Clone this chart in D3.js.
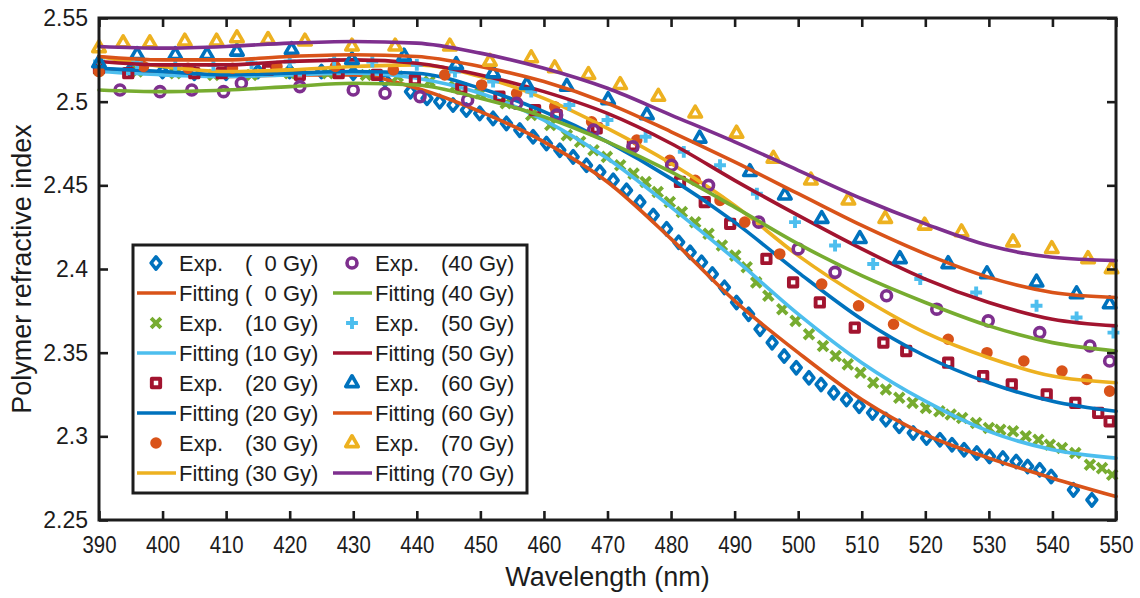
<!DOCTYPE html>
<html>
<head>
<meta charset="utf-8">
<script src="https://cdn.jsdelivr.net/npm/d3@7"></script>
<style>
  body { margin: 0; background: #fff; }
  text { font-family: "Liberation Sans", Arial, sans-serif; fill: #1c1c1c; }
</style>
</head>
<body>
<div class="main"></div>
<script>
// Dados
var doses = ["0", "10", "20", "30", "40", "50", "60", "70"];
var doseLabels = ["(  0 Gy)", "(10 Gy)", "(20 Gy)", "(30 Gy)", "(40 Gy)", "(50 Gy)", "(60 Gy)", "(70 Gy)"];

// curvas de ajuste (a cada 10 nm)
var fitWl = [390, 400, 410, 420, 430, 440, 450, 460, 470, 480, 490, 500, 510, 520, 530, 540, 550];
var fit0  = [2.520, 2.517, 2.515, 2.516, 2.516, 2.508, 2.494, 2.476, 2.452, 2.418, 2.381, 2.350, 2.322, 2.301, 2.287, 2.275, 2.264];
var fit10 = [2.518, 2.516, 2.515, 2.516, 2.517, 2.514, 2.505, 2.489, 2.466, 2.437, 2.406, 2.373, 2.344, 2.321, 2.303, 2.292, 2.287];
var fit20 = [2.520, 2.518, 2.516, 2.517, 2.518, 2.517, 2.508, 2.494, 2.476, 2.454, 2.428, 2.398, 2.370, 2.348, 2.332, 2.321, 2.315];
var fit30 = [2.527, 2.521, 2.518, 2.519, 2.521, 2.522, 2.515, 2.502, 2.484, 2.463, 2.438, 2.408, 2.383, 2.362, 2.347, 2.336, 2.332];
var fit40 = [2.507, 2.506, 2.507, 2.509, 2.511, 2.510, 2.502, 2.491, 2.476, 2.458, 2.437, 2.415, 2.396, 2.380, 2.366, 2.356, 2.351];
var fit50 = [2.524, 2.522, 2.522, 2.524, 2.525, 2.523, 2.516, 2.506, 2.493, 2.475, 2.453, 2.432, 2.412, 2.394, 2.380, 2.370, 2.366];
var fit60 = [2.527, 2.525, 2.525, 2.527, 2.528, 2.527, 2.521, 2.512, 2.499, 2.482, 2.464, 2.445, 2.426, 2.409, 2.395, 2.386, 2.383];
var fit70 = [2.533, 2.532, 2.533, 2.535, 2.536, 2.535, 2.529, 2.520, 2.508, 2.492, 2.476, 2.459, 2.442, 2.427, 2.414, 2.407, 2.405];

// pontos experimentais
var exp0Wl = [390, 395, 400, 405, 410, 415, 420, 425, 430, 435, 439, 441.6, 443.6, 445.7, 447.8, 449.9, 452, 454.1, 456.2, 458.3,
  460.4, 462.5, 464.6, 466.7, 468.8, 470.9, 473, 475.1, 477.2, 479.3, 481.2, 483, 484.8, 486.5, 488.4, 490.3, 492.2, 494, 495.9, 497.8,
  499.7, 501.7, 503.6, 505.6, 507.6, 509.6, 511.7, 513.8, 515.9, 518.1, 520.2, 522.3, 524.2, 526.1, 528.1, 530.1, 532.2, 534.3, 536.1,
  538, 539.8, 543.3, 546.2];
var exp0 = [2.521, 2.519, 2.518, 2.517, 2.517, 2.518, 2.518, 2.518, 2.517, 2.513, 2.506, 2.502, 2.500, 2.498, 2.495, 2.493, 2.490, 2.487, 2.483, 2.479,
  2.475, 2.471, 2.467, 2.462, 2.458, 2.453, 2.447, 2.440, 2.432, 2.424, 2.416, 2.410, 2.404, 2.397, 2.389, 2.380, 2.373, 2.364, 2.356, 2.348,
  2.341, 2.335, 2.331, 2.326, 2.322, 2.318, 2.314, 2.310, 2.306, 2.302, 2.299, 2.298, 2.295, 2.292, 2.290, 2.288, 2.287, 2.285, 2.282,
  2.280, 2.276, 2.268, 2.262];

var exp10Wl = [390, 396, 402, 408, 414, 420, 426, 432, 437, 442, 446, 450, 454, 458, 461, 463.6, 465.7, 467.8, 469.9, 472, 474.1, 476,
  477.9, 479.8, 481.7, 483.8, 485.9, 488, 490.1, 491.9, 493.4, 495.3, 497.5, 499.6, 501.7, 503.9, 505.9, 507.8, 509.8, 511.8, 513.8,
  515.9, 518, 520.1, 522.2, 524, 525.8, 528, 530, 531.8, 533.8, 535.8, 537.8, 539.6, 541.5, 543.6, 545.9, 547.8, 549.4];
var exp10 = [2.519, 2.518, 2.517, 2.516, 2.516, 2.517, 2.517, 2.516, 2.515, 2.512, 2.509, 2.505, 2.499, 2.492, 2.486, 2.480, 2.476, 2.471, 2.467, 2.462, 2.457, 2.452,
  2.446, 2.440, 2.434, 2.428, 2.421, 2.414, 2.408, 2.401, 2.392, 2.384, 2.376, 2.369, 2.361, 2.354, 2.348, 2.343, 2.338, 2.332, 2.328,
  2.323, 2.320, 2.317, 2.315, 2.313, 2.311, 2.308, 2.305, 2.304, 2.303, 2.300, 2.298, 2.295, 2.293, 2.290, 2.283, 2.281, 2.277];

var exp20Wl = [390, 394.6, 405, 409.3, 416.6, 421.6, 427.7, 433.7, 439.7, 447, 453, 458.6, 462, 468.3, 474, 481.4, 485.3, 489.3, 495,
  499.2, 503.4, 508.9, 513.4, 517, 523.6, 529.1, 533.6, 539.1, 543.6, 547.2, 549];
var exp20 = [2.520, 2.517, 2.517, 2.517, 2.519, 2.516, 2.517, 2.516, 2.513, 2.508, 2.503, 2.495, 2.492, 2.484, 2.474, 2.452, 2.440, 2.427, 2.406,
  2.392, 2.380, 2.365, 2.356, 2.351, 2.344, 2.336, 2.331, 2.325, 2.320, 2.314, 2.309];

var exp30Wl = [390, 397, 404, 411, 418, 427.2, 436.3, 444.4, 450.2, 455.7, 461.7, 467.5, 474.6, 479.8, 483.8, 487.7, 491.6, 497.1, 503.7,
  509.5, 515, 523.6, 529.7, 535.5, 541.5, 545.4, 549];
var exp30 = [2.518, 2.521, 2.520, 2.520, 2.521, 2.521, 2.519, 2.516, 2.510, 2.505, 2.497, 2.488, 2.477, 2.465, 2.453, 2.441, 2.428, 2.409, 2.391,
  2.378, 2.367, 2.358, 2.350, 2.345, 2.339, 2.334, 2.327];

var exp40Wl = [393.3, 399.6, 404.6, 409.6, 412.4, 421.6, 430, 435, 440.5, 448, 455.7, 462, 467.8, 474, 480.1, 485.9, 493.8, 500, 505.8,
  513.9, 521.8, 529.9, 538, 545.9, 549];
var exp40 = [2.507, 2.506, 2.507, 2.506, 2.511, 2.509, 2.507, 2.505, 2.503, 2.501, 2.499, 2.492, 2.483, 2.473, 2.462, 2.450, 2.428, 2.412, 2.398,
  2.384, 2.376, 2.369, 2.362, 2.354, 2.345];

var exp50Wl = [390, 396, 402, 408, 414, 420, 427, 433, 440, 446, 452, 458, 464, 470, 476, 482, 487.7, 493.5, 499.5, 505.8, 511.8, 519.2,
  528, 537.5, 543.8, 549.6];
var exp50 = [2.524, 2.523, 2.522, 2.522, 2.523, 2.524, 2.525, 2.524, 2.522, 2.518, 2.512, 2.506, 2.498, 2.489, 2.479, 2.470, 2.462, 2.445, 2.428, 2.414, 2.403, 2.394,
  2.386, 2.378, 2.371, 2.362];

var exp60Wl = [390, 396, 402, 407, 411.7, 420.3, 429.8, 438, 446.2, 452, 457.3, 463.6, 470.1, 476.2, 484.5, 492.4, 497.9, 503.7, 509.7,
  516, 523.6, 529.7, 537.5, 543.8, 549];
var exp60 = [2.523, 2.528, 2.528, 2.528, 2.530, 2.531, 2.525, 2.527, 2.522, 2.517, 2.510, 2.509, 2.501, 2.492, 2.478, 2.458, 2.444, 2.430, 2.418,
  2.406, 2.403, 2.397, 2.392, 2.385, 2.379];

var exp70Wl = [390, 393.8, 398, 403.5, 408.5, 411.7, 416.6, 422.4, 429.8, 436.6, 445.2, 451.5, 458, 461.7, 467, 472, 478, 483.8, 490.3,
  496.1, 502, 507.9, 513.7, 519.9, 525.7, 533.8, 539.9, 545.6, 549.3];
var exp70 = [2.532, 2.535, 2.535, 2.536, 2.536, 2.538, 2.537, 2.536, 2.533, 2.533, 2.533, 2.524, 2.526, 2.520, 2.516, 2.510, 2.503, 2.493, 2.481,
  2.466, 2.453, 2.441, 2.430, 2.426, 2.422, 2.416, 2.412, 2.406, 2.400];

var xTicks = [390, 400, 410, 420, 430, 440, 450, 460, 470, 480, 490, 500, 510, 520, 530, 540, 550];
var xTickLabels = ["390", "400", "410", "420", "430", "440", "450", "460", "470", "480", "490", "500", "510", "520", "530", "540", "550"];
var yTicks = [2.25, 2.3, 2.35, 2.4, 2.45, 2.5, 2.55];
var yTickLabels = ["2.25", "2.3", "2.35", "2.4", "2.45", "2.5", "2.55"];

// Cores e marcadores (padrao MATLAB)
var expColors = ["#0072BD", "#77AC30", "#A2142F", "#D95319", "#7E2F8E", "#4DBEEE", "#0072BD", "#EDB120"];
var fitColors = ["#D95319", "#4DBEEE", "#0072BD", "#EDB120", "#77AC30", "#A2142F", "#D95319", "#7E2F8E"];
var symTimes = d3.symbolTimes || d3.symbolX;
// losango mais largo, como o 'd' do MATLAB
var symDiamondWide = {
  draw: function (ctx, size) {
    var h = Math.sqrt(size) * 0.78, w = h * 0.8;
    ctx.moveTo(0, -h); ctx.lineTo(w, 0); ctx.lineTo(0, h); ctx.lineTo(-w, 0); ctx.closePath();
  }
};
var markers = [
  {type: symDiamondWide, size: 62, fill: false, sw: 3.6},
  {type: symTimes, size: 64, fill: false, sw: 3.9},
  {type: d3.symbolSquare, size: 70, fill: false, sw: 3.9},
  {type: d3.symbolCircle, size: 105, fill: true, sw: 0},
  {type: d3.symbolCircle, size: 78, fill: false, sw: 3.6},
  {type: d3.symbolPlus, size: 48, fill: false, sw: 3.9},
  {type: d3.symbolTriangle, size: 68, fill: false, sw: 3.6},
  {type: d3.symbolTriangle, size: 68, fill: false, sw: 3.6}
];

var expWl = [exp0Wl, exp10Wl, exp20Wl, exp30Wl, exp40Wl, exp50Wl, exp60Wl, exp70Wl];
var expN  = [exp0, exp10, exp20, exp30, exp40, exp50, exp60, exp70];
var fitN  = [fit0, fit10, fit20, fit30, fit40, fit50, fit60, fit70];

// Dimensoes (nomes proprios para nao colidir com window.top)
var W = 1140, H = 598;
var pLeft = 99, pRight = 1116, pTop = 18, pBottom = 520;

var svg = d3.select('.main').append('svg')
  .attr('width', W).attr('height', H)
  .style('display', 'block');
svg.append('rect').attr('width', W).attr('height', H).attr('fill', '#fff');

var x = d3.scaleLinear().domain([390, 550]).range([pLeft, pRight]);
var y = d3.scaleLinear().domain([2.25, 2.55]).range([pBottom, pTop]);

// Series (exp e ajuste, na ordem da legenda)
var line = d3.line().x(d => x(d[0])).y(d => y(d[1])).curve(d3.curveMonotoneX);

function markerPath(m) {
  return d3.symbol().type(m.type).size(m.size)();
}

for (let i = 0; i < doses.length; i++) {
  let m = markers[i];
  let pts = expWl[i].map((w, j) => [w, expN[i][j]]);
  svg.append('g').selectAll('path').data(pts).enter().append('path')
    .attr('d', markerPath(m))
    .attr('transform', d => 'translate(' + x(d[0]) + ',' + y(d[1]) + ')')
    .attr('fill', m.fill ? expColors[i] : 'none')
    .attr('stroke', m.fill ? 'none' : expColors[i])
    .attr('stroke-width', m.sw)
    .attr('stroke-linejoin', 'round');

  let fpts = fitWl.map((w, j) => [w, fitN[i][j]]);
  svg.append('path').datum(fpts)
    .attr('d', line)
    .attr('fill', 'none')
    .attr('stroke', fitColors[i])
    .attr('stroke-width', 3.6)
    .attr('stroke-linecap', 'round');
}

// Eixos (caixa com ticks para dentro)
function styleAxis(g) {
  g.select('.domain').remove();
  g.selectAll('.tick line').attr('stroke', '#1c1c1c').attr('stroke-width', 2.6);
  g.selectAll('.tick text').attr('fill', '#1c1c1c').style('font-size', '23px')
    .style('font-family', '"Liberation Sans", Arial, sans-serif');
}

svg.append('g').attr('transform', 'translate(0,' + pBottom + ')')
  .call(d3.axisBottom(x).tickValues(xTicks).tickFormat((d, i) => xTickLabels[i]).tickSize(-9).tickPadding(17))
  .call(styleAxis)
  .selectAll('.tick text').attr('textLength', 34).attr('lengthAdjust', 'spacingAndGlyphs');

svg.append('g').attr('transform', 'translate(0,' + pTop + ')')
  .call(d3.axisTop(x).tickValues(xTicks).tickFormat('').tickSize(-9))
  .call(styleAxis);

svg.append('g').attr('transform', 'translate(' + pLeft + ',0)')
  .call(d3.axisLeft(y).tickValues(yTicks).tickFormat((d, i) => yTickLabels[i]).tickSize(-9).tickPadding(11))
  .call(styleAxis);

svg.append('g').attr('transform', 'translate(' + pRight + ',0)')
  .call(d3.axisRight(y).tickValues(yTicks).tickFormat('').tickSize(-9))
  .call(styleAxis);

svg.append('rect')
  .attr('x', pLeft).attr('y', pTop)
  .attr('width', pRight - pLeft).attr('height', pBottom - pTop)
  .attr('fill', 'none').attr('stroke', '#1c1c1c').attr('stroke-width', 3);

// Titulos dos eixos
svg.append('text')
  .attr('x', (pLeft + pRight) / 2).attr('y', 586)
  .attr('text-anchor', 'middle').style('font-size', '27px')
  .text('Wavelength (nm)');

svg.append('text')
  .attr('transform', 'translate(31,' + ((pTop + pBottom) / 2) + ') rotate(-90)')
  .attr('text-anchor', 'middle').style('font-size', '27px')
  .text('Polymer refractive index');

// Legenda
var lg = svg.append('g');
lg.append('rect')
  .attr('x', 133).attr('y', 245).attr('width', 394).attr('height', 248)
  .attr('fill', '#fff').attr('stroke', '#1c1c1c').attr('stroke-width', 3);

var colX = [137, 333];
for (let i = 0; i < doses.length; i++) {
  let col = Math.floor(i / 4);
  let row = (i % 4) * 2;
  let x0 = colX[col];
  let yExp = 263 + row * 30;
  let yFit = yExp + 30;
  let m = markers[i];

  lg.append('path')
    .attr('d', markerPath(m))
    .attr('transform', 'translate(' + (x0 + 19) + ',' + yExp + ')')
    .attr('fill', m.fill ? expColors[i] : 'none')
    .attr('stroke', m.fill ? 'none' : expColors[i])
    .attr('stroke-width', m.sw)
    .attr('stroke-linejoin', 'round');

  lg.append('line')
    .attr('x1', x0).attr('x2', x0 + 39)
    .attr('y1', yFit).attr('y2', yFit)
    .attr('stroke', fitColors[i]).attr('stroke-width', 3.6);

  [[yExp, 'Exp.'], [yFit, 'Fitting']].forEach(function (e) {
    let t = lg.append('text').attr('y', e[0] + 8).style('font-size', '22px').style('white-space', 'pre');
    t.append('tspan').attr('x', x0 + 42).text(e[1]);
    t.append('tspan').attr('x', x0 + 108).text(doseLabels[i]);
  });
}
</script>
</body>
</html>
